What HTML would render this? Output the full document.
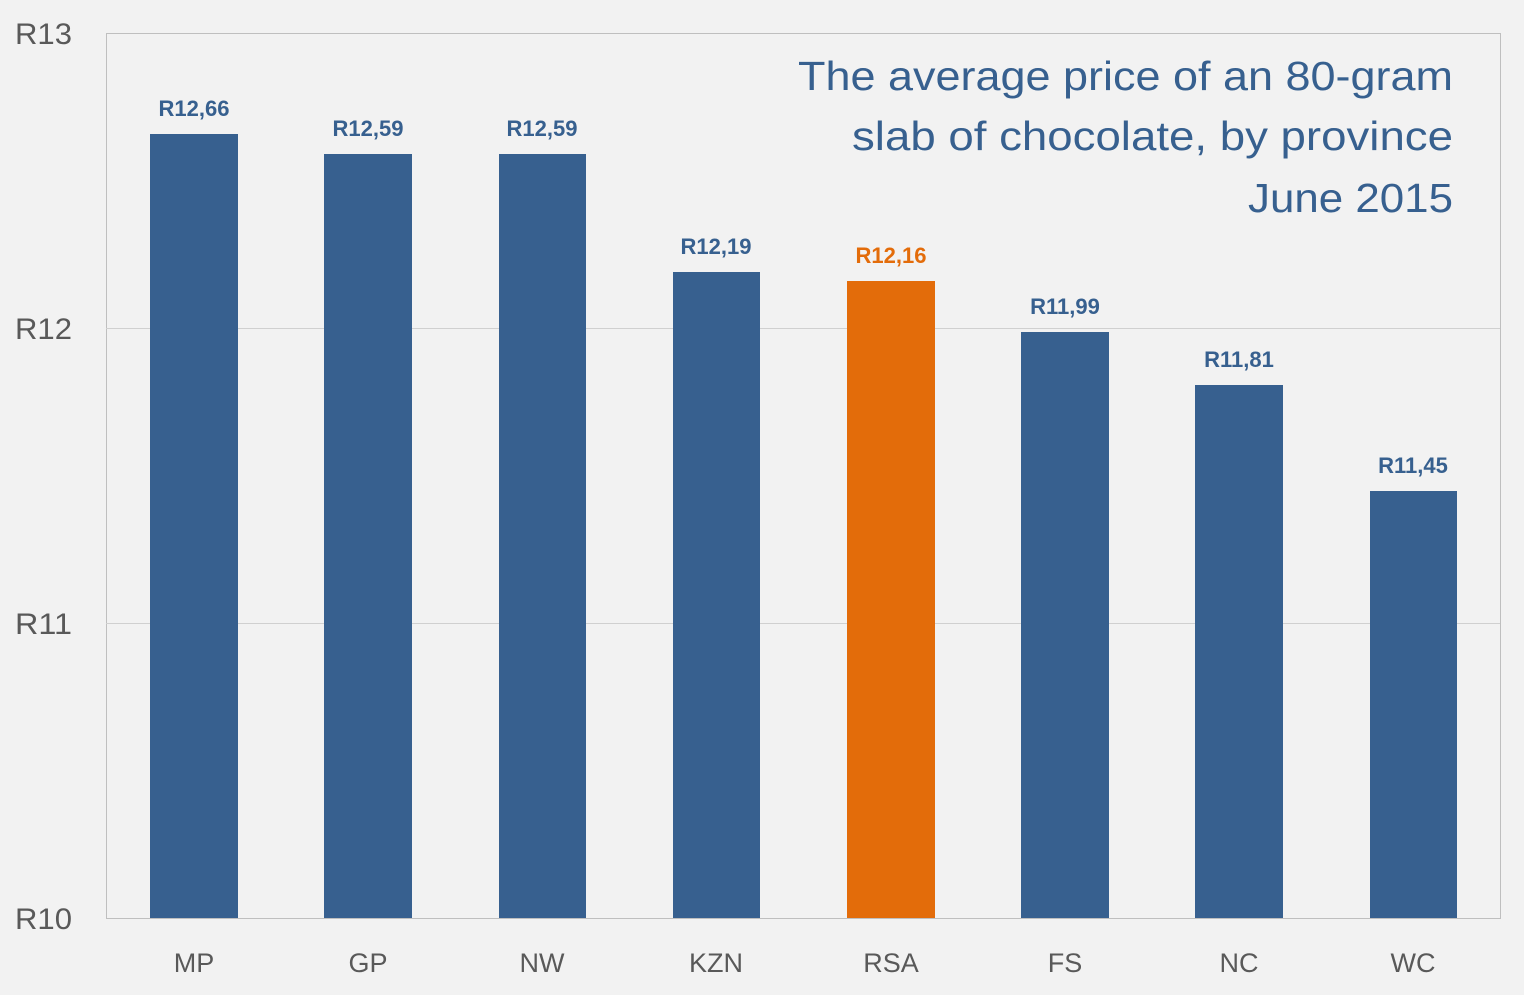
<!DOCTYPE html>
<html><head><style>body{margin:0;background:#F2F2F2}svg{display:block}</style></head><body>
<svg width="1524" height="995" xmlns="http://www.w3.org/2000/svg" font-family="Liberation Sans, sans-serif">
<rect width="1524" height="995" fill="#F2F2F2"/>
<rect x="106.5" y="33.5" width="1394" height="885" fill="none" stroke="#BFBFBF" stroke-width="1"/>
<line x1="106" y1="328.5" x2="1500" y2="328.5" stroke="#D0D0D0"/>
<line x1="106" y1="623.5" x2="1500" y2="623.5" stroke="#D0D0D0"/>
<g font-size="30" fill="#595959" text-anchor="end">
<text x="72" y="44" textLength="57" lengthAdjust="spacingAndGlyphs">R13</text><text x="72" y="339" textLength="57" lengthAdjust="spacingAndGlyphs">R12</text><text x="72" y="634" textLength="57" lengthAdjust="spacingAndGlyphs">R11</text><text x="72" y="929" textLength="57" lengthAdjust="spacingAndGlyphs">R10</text>
</g>
<g fill="#37608F">
<rect x="150" y="134" width="88" height="784"/>
<rect x="324" y="154" width="88" height="764"/>
<rect x="499" y="154" width="87" height="764"/>
<rect x="673" y="272" width="87" height="646"/>
<rect x="1021" y="332" width="88" height="586"/>
<rect x="1195" y="385" width="88" height="533"/>
<rect x="1370" y="491" width="87" height="427"/>
</g>
<rect x="847" y="281" width="88" height="637" fill="#E36C0A"/>
<g font-size="22" font-weight="bold" fill="#37608F" text-anchor="middle">
<text x="194" y="116">R12,66</text><text x="368" y="136">R12,59</text><text x="542" y="136">R12,59</text>
<text x="716" y="254">R12,19</text><text x="891" y="263" fill="#E36C0A">R12,16</text>
<text x="1065" y="314">R11,99</text><text x="1239" y="367">R11,81</text><text x="1413" y="473">R11,45</text>
</g>
<g font-size="27" fill="#595959" text-anchor="middle">
<text x="194" y="972">MP</text><text x="368" y="972">GP</text><text x="542" y="972">NW</text><text x="716" y="972">KZN</text>
<text x="891" y="972">RSA</text><text x="1065" y="972">FS</text><text x="1239" y="972">NC</text><text x="1413" y="972">WC</text>
</g>
<g font-size="41" fill="#37608F">
<text x="798" y="90" textLength="655" lengthAdjust="spacingAndGlyphs">The average price of an 80-gram</text>
<text x="852" y="150" textLength="601" lengthAdjust="spacingAndGlyphs">slab of chocolate, by province</text>
<text x="1248" y="212" textLength="205" lengthAdjust="spacingAndGlyphs">June 2015</text>
</g>
</svg>
</body></html>
